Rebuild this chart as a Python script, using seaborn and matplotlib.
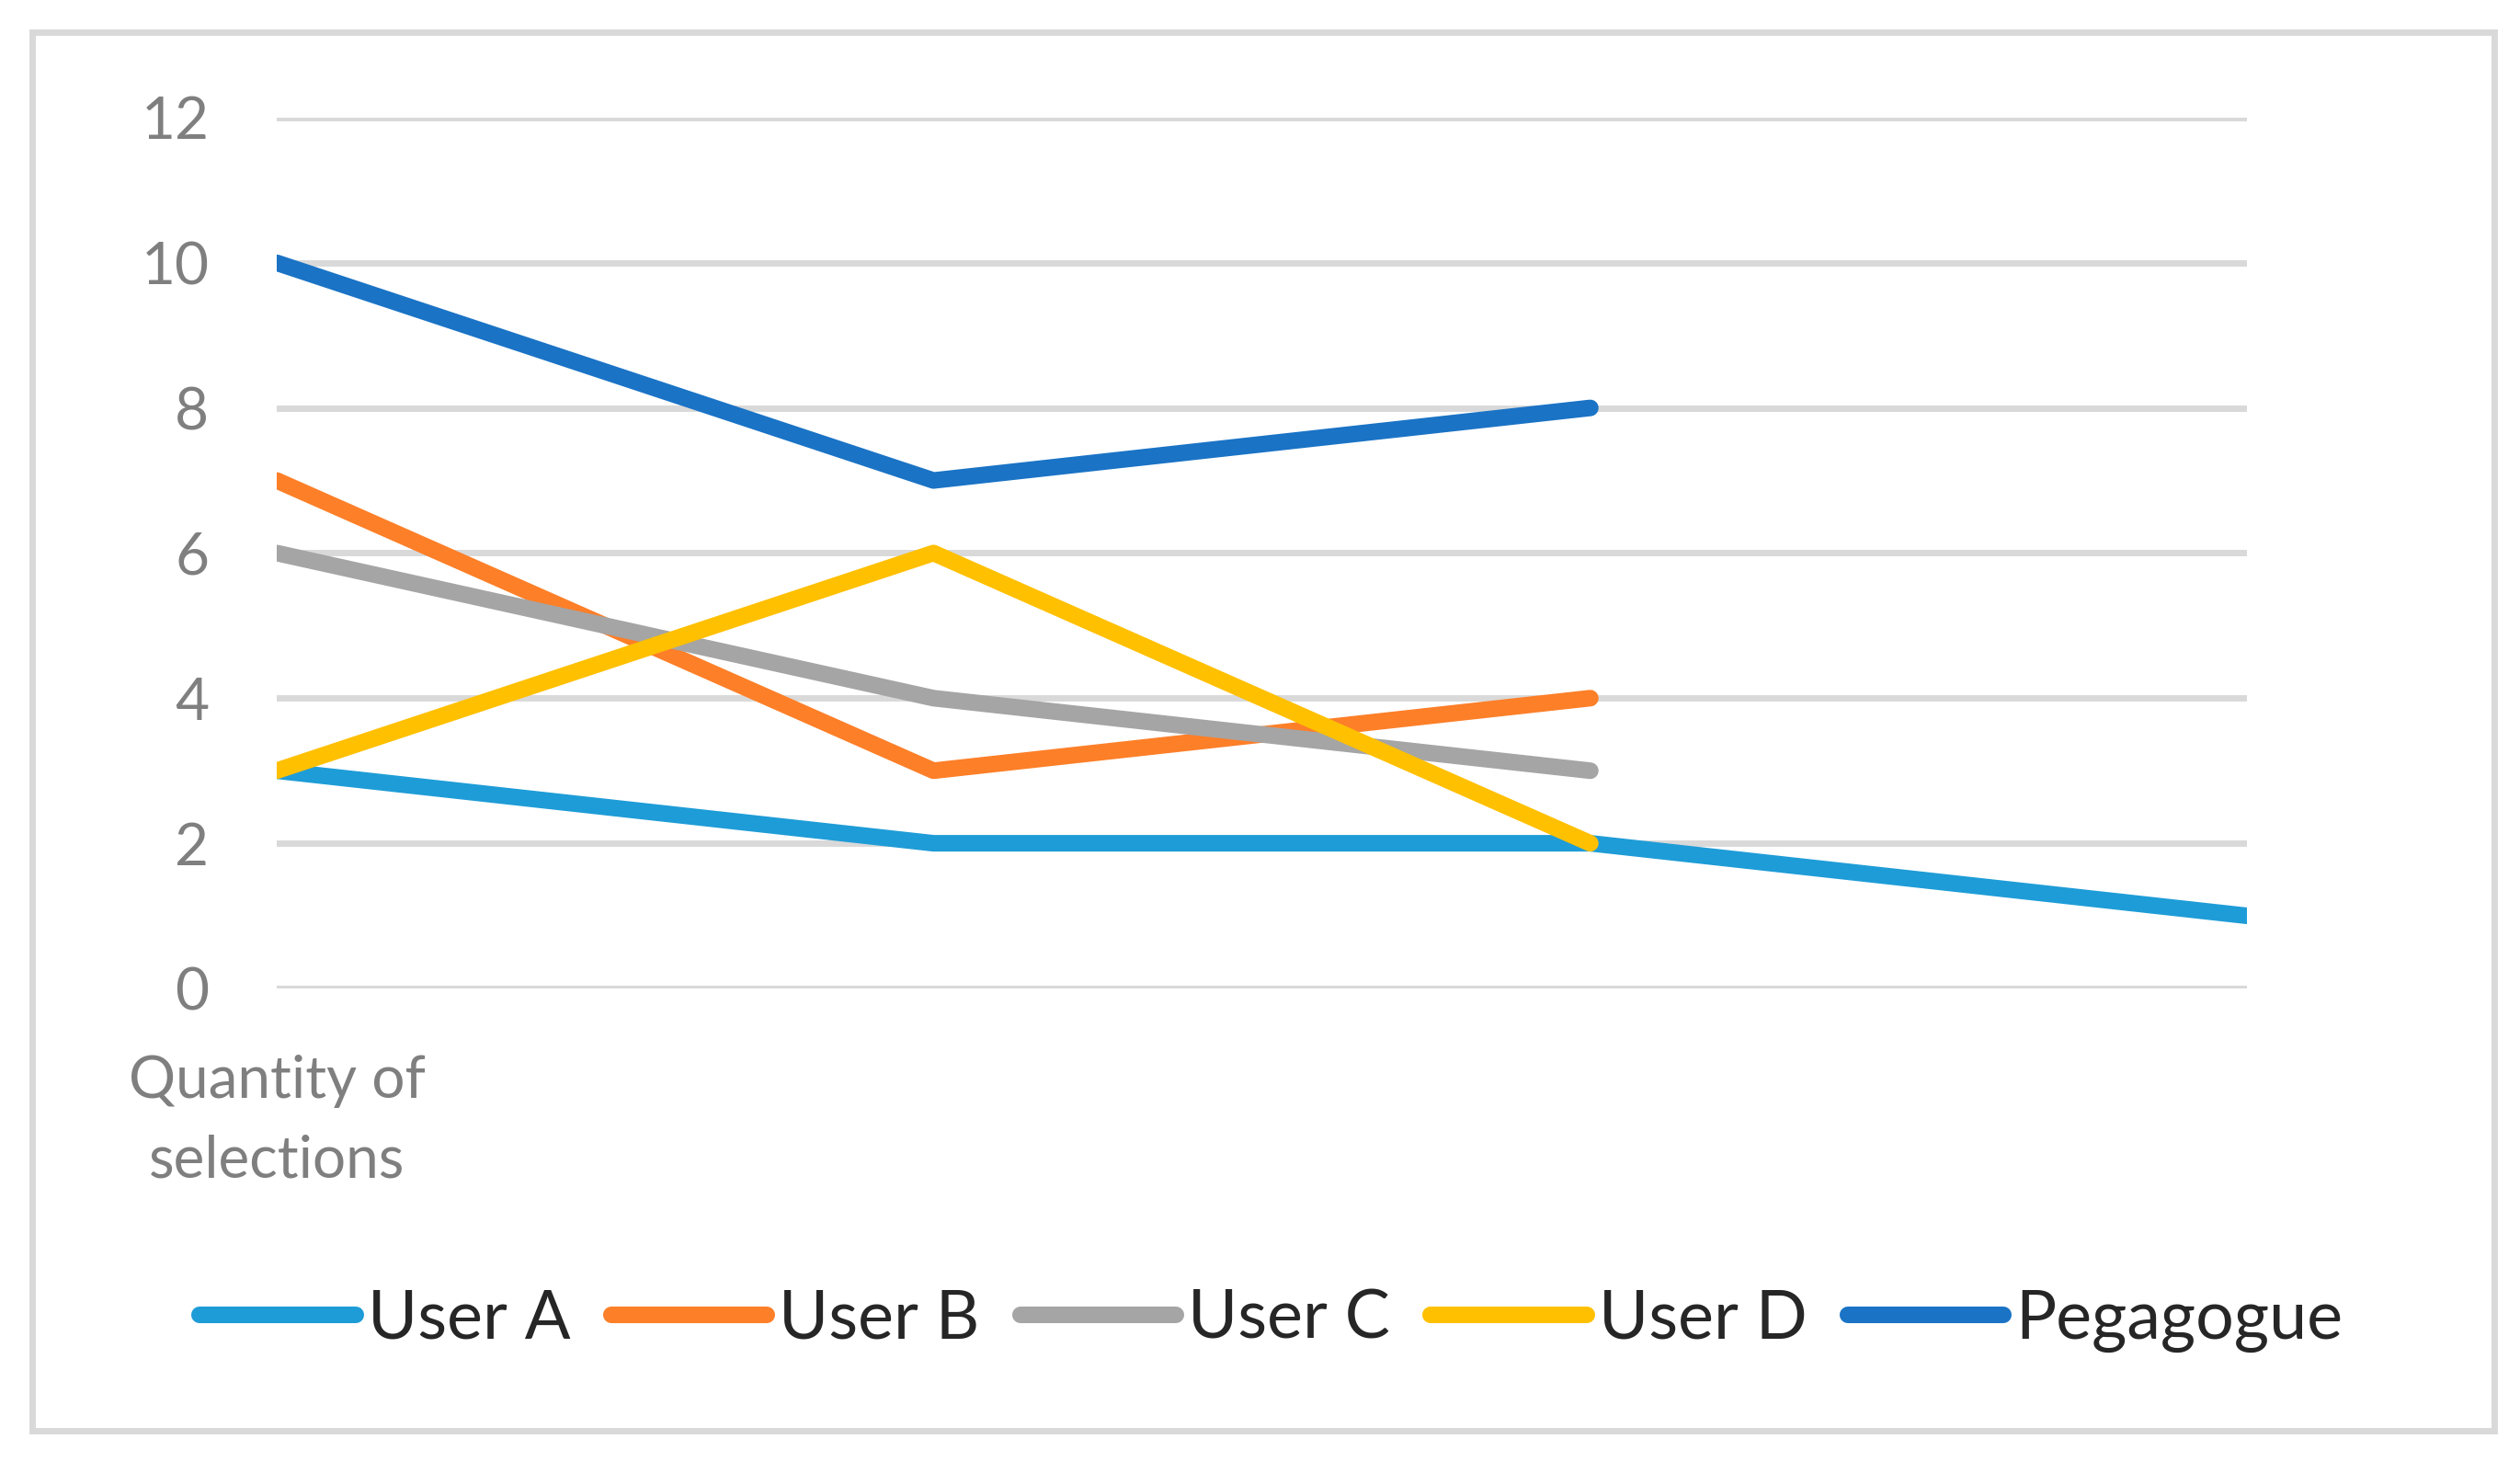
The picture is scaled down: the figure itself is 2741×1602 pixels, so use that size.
import pandas as pd
import matplotlib.pyplot as plt
import seaborn as sns
from matplotlib.patches import Rectangle

# Chart data
categories = ["Quantity of\nselections", "", "", ""]
series_names = ["User A", "User B", "User C", "User D", "Pegagogue"]
user_a = [3, 2, 2, 1]
user_b = [7, 3, 4]
user_c = [6, 4, 3]
user_d = [3, 6, 2]
pegagogue = [10, 7, 8]
colors = ["#1E9CD7", "#FD7F28", "#A5A5A5", "#FFC000", "#1A73C5"]

# Long-form table for seaborn
rows = []
for name, values in zip(series_names, [user_a, user_b, user_c, user_d, pegagogue]):
    for i, v in enumerate(values):
        rows.append({"pos": i, "value": v, "series": name})
df = pd.DataFrame(rows)

sns.set_style("white")
plt.rcParams['font.family'] = ['Lato', 'DejaVu Sans']

fig = plt.figure(figsize=(27.41, 16.02), dpi=100)
ax = fig.add_axes([0.1098, 0.3290, 0.7819, 0.5911])

sns.lineplot(data=df, x="pos", y="value", hue="series", hue_order=series_names,
             palette=colors, linewidth=13, solid_capstyle="round", sort=False,
             estimator=None, ax=ax)

ax.set_xlim(0, 3)
ax.set_ylim(0, 12)
ax.set_yticks(range(0, 13, 2))
ax.set_xticks(range(len(categories)))
ax.set_xticklabels(categories, linespacing=1.6)
ax.set_xlabel("")
ax.set_ylabel("")
ax.tick_params(axis="both", length=0, labelsize=46, colors="#7F7F7F")
ax.tick_params(axis="y", pad=53)
ax.tick_params(axis="x", pad=52)
ax.grid(axis="y", color="#D9D9D9", linewidth=5)
ax.set_axisbelow(True)
for s in ax.spines.values():
    s.set_visible(False)

# Legend below the plot
sns.move_legend(ax, loc="center", bbox_to_anchor=(0.5045, 0.1035),
                bbox_transform=fig.transFigure, ncol=5, title=None, frameon=False,
                fontsize=53, handlelength=2.3, handletextpad=0.18,
                columnspacing=0.6)
for line in ax.get_legend().get_lines():
    line.set_linewidth(13)
    line.set_solid_capstyle("round")

# Outer chart border
fig.patches.append(Rectangle((0.0128, 0.0287), 0.977, 0.9495, transform=fig.transFigure,
                             fill=False, edgecolor="#D9D9D9", linewidth=5))

fig.savefig("out.png", dpi=100)
